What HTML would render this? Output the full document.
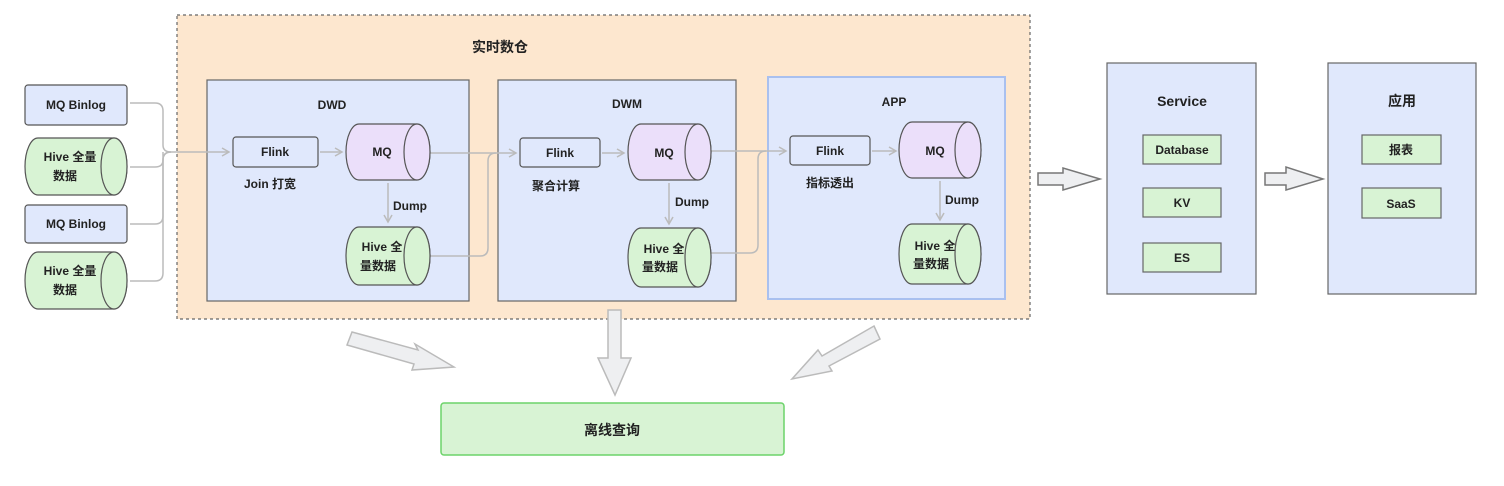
<!DOCTYPE html>
<html><head><meta charset="utf-8"><style>
html,body{margin:0;padding:0;background:#fff;}
svg{display:block;}
text{font-family:"Liberation Sans","Noto Sans CJK SC",sans-serif;font-weight:bold;fill:#222;font-size:12px;text-anchor:middle;dominant-baseline:central;}
</style></head><body>
<svg width="1504" height="486" viewBox="0 0 1504 486" xmlns="http://www.w3.org/2000/svg">
<defs>
<marker id="ah" markerWidth="10" markerHeight="10" refX="8" refY="5" orient="auto" markerUnits="userSpaceOnUse"><path d="M1,1 L8,5 L1,9" fill="none" stroke="#bbb" stroke-width="1.5"/></marker>
</defs>
<!-- outer -->
<rect x="177" y="15" width="853" height="304" fill="#fde7cf" stroke="#666" stroke-width="1.2" stroke-dasharray="3,3"/>
<text x="500" y="47" style="font-size:14px">实时数仓</text>
<!-- panels -->
<rect x="207" y="80" width="262" height="221" fill="#e0e8fc" stroke="#666" stroke-width="1.2"/>
<text x="332" y="105">DWD</text>
<rect x="498" y="80" width="238" height="221" fill="#e0e8fc" stroke="#666" stroke-width="1.2"/>
<text x="627" y="104">DWM</text>
<rect x="768" y="77" width="237" height="222" fill="#e0e8fc" stroke="#a9c0ef" stroke-width="2"/>
<text x="894" y="102">APP</text>
<rect x="1107" y="63" width="149" height="231" fill="#e0e8fc" stroke="#666" stroke-width="1.2"/>
<text x="1182" y="101" style="font-size:14px">Service</text>
<rect x="1328" y="63" width="148" height="231" fill="#e0e8fc" stroke="#666" stroke-width="1.2"/>
<text x="1402" y="101" style="font-size:14px">应用</text>
<!-- service items -->
<g fill="#d8f3d4" stroke="#666" stroke-width="1.2">
<rect x="1143" y="135" width="78" height="29"/><rect x="1143" y="188" width="78" height="29"/><rect x="1143" y="243" width="78" height="29"/>
<rect x="1362" y="135" width="79" height="29"/><rect x="1362" y="188" width="79" height="30"/>
</g>
<text x="1182" y="150">Database</text><text x="1182" y="203">KV</text><text x="1182" y="258">ES</text>
<text x="1401" y="150">报表</text><text x="1401" y="204">SaaS</text>
<!-- connectors left -->
<g fill="none" stroke="#bbb" stroke-width="1.5">
<path d="M130,103 H155 Q163,103 163,111 V145 Q163,152 171,152"/>
<path d="M130,167 H155 Q163,167 163,160 V152"/>
<path d="M130,224 H155 Q163,224 163,216 V160 Q163,152 171,152"/>
<path d="M130,281 H155 Q163,281 163,273 V160 Q163,152 171,152"/>
<path d="M171,152 H229" marker-end="url(#ah)"/>
<path d="M320,152 H342" marker-end="url(#ah)"/>
<path d="M388,183 V222" marker-end="url(#ah)"/>
<path d="M430,153 H516" marker-end="url(#ah)"/>
<path d="M430,256 H480 Q488,256 488,248 V161 Q488,153 496,153"/>
<path d="M602,153 H624" marker-end="url(#ah)"/>
<path d="M669,183 V224" marker-end="url(#ah)"/>
<path d="M711,151 H786" marker-end="url(#ah)"/>
<path d="M711,253 H750 Q758,253 758,245 V159 Q758,151 766,151"/>
<path d="M872,151 H896" marker-end="url(#ah)"/>
<path d="M940,181 V220" marker-end="url(#ah)"/>
</g>
<!-- left sources -->
<g stroke="#555" stroke-width="1.2">
<rect x="25" y="85" width="102" height="40" rx="3" fill="#e0e8fc"/>
<rect x="25" y="205" width="102" height="38" rx="3" fill="#e0e8fc"/>
<rect x="233" y="137" width="85" height="30" rx="3" fill="#e0e8fc"/>
<rect x="520" y="138" width="80" height="29" rx="3" fill="#e0e8fc"/>
<rect x="790" y="136" width="80" height="29" rx="3" fill="#e0e8fc"/>
</g>
<text x="76" y="105">MQ Binlog</text><text x="76" y="224">MQ Binlog</text>
<text x="275" y="152">Flink</text><text x="560" y="153">Flink</text><text x="830" y="151">Flink</text>
<text x="270" y="184">Join 打宽</text><text x="556" y="186">聚合计算</text><text x="830" y="183">指标透出</text>
<text x="410" y="206">Dump</text><text x="692" y="202">Dump</text><text x="962" y="200">Dump</text>
<!-- cylinders -->
<g stroke="#555" stroke-width="1.2">
<!-- left hive 1 -->
<path d="M38,138 H114 A13,28.5 0 0 1 114,195 H38 A13,28.5 0 0 1 38,138 Z" fill="#d8f3d4"/><ellipse cx="114" cy="166.5" rx="13" ry="28.5" fill="#d8f3d4"/>
<path d="M38,252 H114 A13,28.5 0 0 1 114,309 H38 A13,28.5 0 0 1 38,252 Z" fill="#d8f3d4"/><ellipse cx="114" cy="280.5" rx="13" ry="28.5" fill="#d8f3d4"/>
<!-- DWD -->
<path d="M359,124 H417 A13,28 0 0 1 417,180 H359 A13,28 0 0 1 359,124 Z" fill="#ebdffa"/><ellipse cx="417" cy="152" rx="13" ry="28" fill="#ebdffa"/>
<path d="M359,227 H417 A13,29 0 0 1 417,285 H359 A13,29 0 0 1 359,227 Z" fill="#d8f3d4"/><ellipse cx="417" cy="256" rx="13" ry="29" fill="#d8f3d4"/>
<!-- DWM -->
<path d="M641,124 H698 A13,28 0 0 1 698,180 H641 A13,28 0 0 1 641,124 Z" fill="#ebdffa"/><ellipse cx="698" cy="152" rx="13" ry="28" fill="#ebdffa"/>
<path d="M641,228 H698 A13,29.5 0 0 1 698,287 H641 A13,29.5 0 0 1 641,228 Z" fill="#d8f3d4"/><ellipse cx="698" cy="257.5" rx="13" ry="29.5" fill="#d8f3d4"/>
<!-- APP -->
<path d="M912,122 H968 A13,28 0 0 1 968,178 H912 A13,28 0 0 1 912,122 Z" fill="#ebdffa"/><ellipse cx="968" cy="150" rx="13" ry="28" fill="#ebdffa"/>
<path d="M912,224 H968 A13,30 0 0 1 968,284 H912 A13,30 0 0 1 912,224 Z" fill="#d8f3d4"/><ellipse cx="968" cy="254" rx="13" ry="30" fill="#d8f3d4"/>
</g>
<text x="70" y="157">Hive 全量</text><text x="65" y="176">数据</text>
<text x="70" y="271">Hive 全量</text><text x="65" y="290">数据</text>
<text x="382" y="152">MQ</text><text x="664" y="153">MQ</text><text x="935" y="151">MQ</text>
<text x="382" y="247">Hive 全</text><text x="378" y="266">量数据</text>
<text x="664" y="249">Hive 全</text><text x="660" y="267">量数据</text>
<text x="935" y="246">Hive 全</text><text x="931" y="264">量数据</text>
<!-- big arrows -->
<g fill="#eeeff1" stroke="#777" stroke-width="1.5">
<polygon points="1038,173 1063,173 1063,168 1100,179 1063,190 1063,185 1038,185"/>
<polygon points="1265,173 1286,173 1286,167 1323,179 1286,190 1286,185 1265,185"/>
</g>
<g fill="#eeeff1" stroke="#bbb" stroke-width="1.5">
<polygon points="352,332 418,350 415,344 454,367 412,370 414,364 347,345"/>
<polygon points="608,310 621,310 621,358 631,358 615,395 598,358 608,358"/>
<polygon points="874,326 880,339 829,366 832,371 792,379 818,350 822,356"/>
</g>
<rect x="441" y="403" width="343" height="52" rx="3" fill="#d8f3d4" stroke="#6cd36a" stroke-width="1.5"/>
<text x="612" y="430" style="font-size:14px">离线查询</text>
</svg>
</body></html>
